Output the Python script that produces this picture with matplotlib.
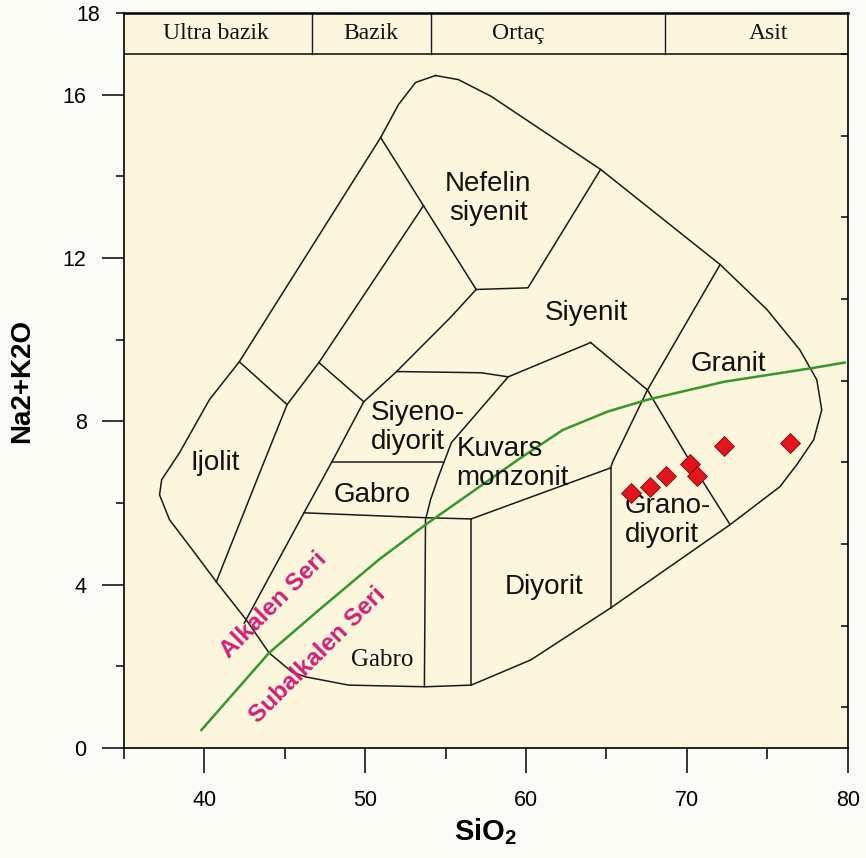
import numpy as np
import matplotlib.pyplot as plt

# Dış sınır (SiO2, Na2O+K2O)
dis_sinir_x = [54.37, 55.79, 57.83, 64.64, 72.07, 74.98, 77.03, 78.08, 78.39, 77.89,
               76.84, 75.79, 72.69, 65.26, 60.31, 56.59, 53.75, 48.98, 46.32, 45.45,
               44.02, 42.60, 40.74, 39.26, 37.83, 37.21, 37.34, 38.45, 40.31, 42.17,
               50.96, 52.07, 53.13, 54.37]
dis_sinir_y = [16.47, 16.37, 15.96, 14.17, 11.84, 10.74, 9.75, 9.02, 8.28, 7.55,
               6.94, 6.40, 5.47, 3.43, 2.16, 1.54, 1.50, 1.54, 1.74, 1.86,
               2.33, 3.14, 4.07, 4.85, 5.59, 6.20, 6.57, 7.23, 8.53, 9.46,
               14.95, 15.76, 16.30, 16.47]

# İç sınır çizgileri
ic_cizgiler = [
    ([50.96, 56.90], [14.95, 11.23]),
    ([56.90, 60.12, 64.64], [11.23, 11.27, 14.17]),
    ([53.62, 47.12, 45.14, 43.59, 40.74], [13.28, 9.44, 8.41, 6.89, 4.07]),
    ([42.17, 45.14], [9.46, 8.41]),
    ([47.12, 49.91], [9.44, 8.48]),
    ([56.90, 55.29, 51.95, 49.91, 47.93, 46.19, 42.48], [11.23, 10.54, 9.22, 8.48, 7.01, 5.76, 3.06]),
    ([51.95, 57.21, 58.89], [9.22, 9.19, 9.09]),
    ([58.89, 64.02], [9.09, 9.93]),
    ([58.89, 56.22, 55.36, 54.55, 54.06, 53.75, 53.68], [9.09, 7.87, 7.48, 6.64, 6.08, 5.59, 1.50]),
    ([47.93, 54.86], [7.01, 7.01]),
    ([46.19, 53.75, 56.59], [5.76, 5.64, 5.61]),
    ([56.59, 56.59], [5.61, 1.54]),
    ([56.59, 65.26], [5.61, 6.86]),
    ([65.26, 65.26], [6.86, 3.43]),
    ([72.07, 67.55, 65.39, 65.26], [11.84, 8.77, 7.01, 6.86]),
    ([64.02, 67.55, 70.03, 72.69], [9.93, 8.77, 7.13, 5.47]),
]

# Alkalen / Subalkalen ayırım eğrisi
seri_x = [39.81, 44.02, 47.12, 50.84, 53.75, 59.50, 62.29, 65.08, 67.55, 72.32, 77.89, 79.81]
seri_y = [0.44, 2.33, 3.38, 4.61, 5.47, 7.06, 7.79, 8.24, 8.53, 8.97, 9.31, 9.44]

# Örnekler
ornek_sio2 = [66.5, 67.7, 68.7, 70.2, 70.65, 72.3, 76.4]
ornek_alkali = [6.25, 6.40, 6.67, 6.96, 6.67, 7.40, 7.47]

# Kaya adları: (metin, x, y, hizalama)
kaya_adlari = [
    ("Nefelin\nsiyenit", 57.65, 13.45, 'center'),
    ("Siyenit", 63.78, 10.66, 'center'),
    ("Granit", 72.57, 9.41, 'center'),
    ("Siyeno-\ndiyorit", 50.34, 7.84, 'left'),
    ("Kuvars\nmonzonit", 55.67, 6.96, 'left'),
    ("Ijolit", 40.68, 6.99, 'center'),
    ("Gabro", 50.46, 6.20, 'center'),
    ("Diyorit", 61.11, 3.95, 'center'),
    ("Grano-\ndiyorit", 66.13, 5.56, 'left'),
]

# Üst bant
bant_sinirlari = [46.69, 54.06, 68.67]
bant_adlari = ["Ultra bazik", "Bazik", "Ortaç", "Asit"]
bant_x = [40.74, 50.34, 59.5, 75.1]

plt.rcParams['mathtext.fontset'] = 'custom'
plt.rcParams['mathtext.bf'] = 'Liberation Sans:bold'
plt.rcParams['mathtext.rm'] = 'Liberation Sans'

fig = plt.figure(figsize=(8.66, 8.58), dpi=100)
fig.patch.set_facecolor('#fcfcf7')
ax = fig.add_axes([0.1432, 0.1282, 0.8356, 0.8566])
ax.set_facecolor('#fbf6dc')
ax.set_xlim(35, 80)
ax.set_ylim(0, 18)

cizgi = '#1a1a1a'
ax.plot(dis_sinir_x, dis_sinir_y, color=cizgi, lw=1.1)
for xs, ys in ic_cizgiler:
    ax.plot(xs, ys, color=cizgi, lw=1.1)

ax.plot(seri_x, seri_y, color='#34982a', lw=1.8)

ax.plot(ornek_sio2, ornek_alkali, linestyle='none', marker='D', ms=10.5,
        mfc='#e3141b', mec='#7a0a0a', mew=0.6, zorder=5)

sans = ['Liberation Sans', 'DejaVu Sans']
serif = ['Liberation Serif', 'DejaVu Serif']
for metin, x, y, ha in kaya_adlari:
    ax.text(x, y, metin, ha=ha, va='center', fontsize=20, family=sans,
            linespacing=1.15, color='#111111')

ax.text(51.08, 2.16, "Gabro", ha='center', va='center', fontsize=18,
        family=serif, color='#111111')

ax.text(44.33, 3.50, "Alkalen Seri", rotation=45, ha='center', va='center',
        fontsize=17.5, fontweight='bold', family=sans, color='#d21f78')
ax.text(47.06, 2.28, "Subalkalen Seri", rotation=45, ha='center', va='center',
        fontsize=17.5, fontweight='bold', family=sans, color='#d21f78')

# Üst bant
ax.axhline(17, color=cizgi, lw=1.2)
for bx in bant_sinirlari:
    ax.plot([bx, bx], [17, 18], color=cizgi, lw=1.0)
for ad, bx in zip(bant_adlari, bant_x):
    ax.text(bx, 17.5, ad, ha='center', va='center', fontsize=17,
            family=serif, color='#111111')

# Eksenler
narrow = ['Liberation Sans Narrow', 'Liberation Sans']
ax.set_xticks([40, 50, 60, 70, 80])
ax.set_xticks([35, 45, 55, 65, 75], minor=True)
ax.set_yticks([0, 4, 8, 12, 16])
ax.set_yticks([2, 6, 10, 14, 18], minor=True)
ax.set_yticklabels(['', '', '', '', '18'], minor=True)
ax.tick_params(axis='x', which='major', length=18, width=1.1, pad=12, labelsize=15.5)
ax.tick_params(axis='x', which='minor', length=8, width=1.1)
ax.tick_params(axis='y', which='major', length=16, width=1.1, pad=11, labelsize=15.5)
ax.tick_params(axis='y', which='minor', length=6, width=1.1, pad=11, labelsize=15.5)
for lab in ax.get_xticklabels() + ax.get_yticklabels() + ax.get_yticklabels(minor=True):
    lab.set_family(narrow)
for sp in ax.spines.values():
    sp.set_linewidth(1.2)
ax.spines['top'].set_linewidth(1.8)

ax2 = ax.twinx()
ax2.set_ylim(0, 18)
ax2.set_yticks([1, 3, 5, 7, 9, 11, 13, 15, 17])
ax2.set_yticklabels([])
ax2.tick_params(axis='y', direction='in', length=5, width=1.1)
for sp in ax2.spines.values():
    sp.set_visible(False)

ax.set_xlabel(r'$\mathbf{SiO_2}$', fontsize=21)
ax.xaxis.set_label_coords(0.5, -0.093)
ax.set_ylabel('Na2+K2O', fontsize=20, fontweight='bold', family=sans)
ax.yaxis.set_label_coords(-0.123, 0.5)

fig.savefig('out.png', dpi=100, facecolor=fig.get_facecolor())
